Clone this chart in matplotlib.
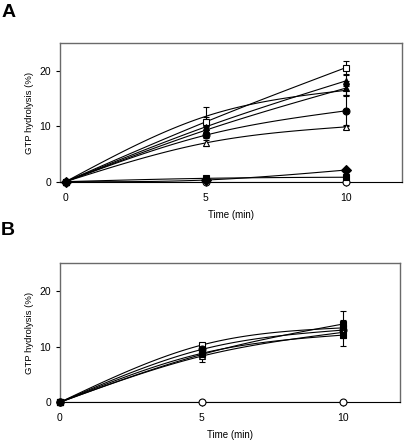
import numpy as np
import matplotlib.pyplot as plt

plt.rcParams['font.family'] = ['Liberation Sans', 'DejaVu Sans']

time = [0, 5, 10]

# panel A
a_open_sq = [0, 10.8, 20.6]
a_open_sq_err = [0, 0.8, 1.2]
a_fill_tri = [0, 9.9, 18.2]
a_fill_tri_err = [0, 0.5, 1.0]
a_plain = [0, 11.8, 16.5]
a_plain_err = [0, 1.7, 1.0]
a_fill_hex = [0, 9.3, 16.9]
a_fill_hex_err = [0, 0.5, 1.2]
a_fill_circ = [0, 8.4, 12.8]
a_fill_circ_err = [0, 0.5, 2.8]
a_open_tri = [0, 7.0, 9.9]
a_open_tri_err = [0, 0.5, 0.3]
a_fill_dia = [0, 0.3, 2.1]
a_fill_sq = [0, 0.6, 0.8]
a_open_circ = [0, 0.0, 0.0]

# panel B
b_open_sq = [0, 10.3, 13.4]
b_open_sq_err = [0, 0.4, 1.5]
b_fill_circ = [0, 9.5, 13.0]
b_fill_circ_err = [0, 0.5, 1.2]
b_fill_sq1 = [0, 8.6, 14.1]
b_fill_sq1_err = [0, 1.3, 2.3]
b_fill_sq2 = [0, 8.8, 12.1]
b_fill_sq2_err = [0, 0.5, 2.0]
b_open_tri = [0, 8.3, 12.6]
b_open_tri_err = [0, 0.4, 1.0]
b_open_circ = [0, 0.0, 0.0]


def natural_spline(x, y, xs):
    # natural cubic spline through the measured points (display only)
    x = np.asarray(x, float)
    y = np.asarray(y, float)
    n = len(x)
    h = np.diff(x)
    A = np.zeros((n, n))
    r = np.zeros(n)
    A[0, 0] = A[-1, -1] = 1
    for k in range(1, n - 1):
        A[k, k - 1] = h[k - 1]
        A[k, k] = 2 * (h[k - 1] + h[k])
        A[k, k + 1] = h[k]
        r[k] = 6 * ((y[k + 1] - y[k]) / h[k] - (y[k] - y[k - 1]) / h[k - 1])
    M = np.linalg.solve(A, r)
    out = np.empty_like(xs)
    for i, xv in enumerate(xs):
        k = min(np.searchsorted(x, xv, side='right') - 1, n - 2)
        a = x[k + 1] - xv
        b = xv - x[k]
        out[i] = (M[k] * a**3 / (6 * h[k]) + M[k + 1] * b**3 / (6 * h[k])
                  + (y[k] / h[k] - M[k] * h[k] / 6) * a
                  + (y[k + 1] / h[k] - M[k + 1] * h[k] / 6) * b)
    return out


def series(ax, y, marker, filled, err=None, z=4):
    xs = np.linspace(time[0], time[-1], 80)
    ax.plot(xs, natural_spline(time, y, xs), color='black', lw=0.8, zorder=2)
    if err is not None:
        ax.errorbar(time, y, yerr=err, fmt='none', ecolor='black',
                    elinewidth=0.8, capsize=2.5, capthick=0.8, zorder=3)
    if marker is not None:
        ax.plot(time, y, linestyle='none', marker=marker, ms=5,
                mfc='black' if filled else 'white', mec='black', mew=0.8,
                zorder=z, clip_on=False)


def style(ax, xmin):
    ax.set_xlim(xmin, 12)
    ax.set_ylim(0, 25)
    ax.set_xticks([0, 5, 10])
    ax.set_yticks([0, 10, 20])
    ax.tick_params(labelsize=7.5, length=3, width=0.8, direction='out')
    ax.tick_params(axis='x', pad=5)
    for s in ['top', 'right', 'left']:
        ax.spines[s].set_color('#6a6a6a')
        ax.spines[s].set_linewidth(1.0)
    ax.spines['bottom'].set_color('black')
    ax.spines['bottom'].set_linewidth(0.8)
    ax.set_xlabel('Time (min)', fontsize=7, labelpad=5)
    ax.set_ylabel('GTP hydrolysis (%)', fontsize=6.8, labelpad=4)


fig = plt.figure(figsize=(4.04, 4.42), dpi=100)
ax1 = fig.add_axes([0.1485, 0.589, 0.846, 0.313])
ax2 = fig.add_axes([0.1485, 0.090, 0.842, 0.314])

series(ax1, a_plain, None, True, a_plain_err)
series(ax1, a_open_sq, 's', False, a_open_sq_err)
series(ax1, a_fill_tri, '^', True, a_fill_tri_err)
series(ax1, a_fill_hex, '^', True, a_fill_hex_err)
series(ax1, a_fill_circ, 'o', True, a_fill_circ_err)
series(ax1, a_open_tri, '^', False, a_open_tri_err)
series(ax1, a_open_circ, 'o', False)
series(ax1, a_fill_dia, 'D', True)
series(ax1, a_fill_sq, 's', True, z=5)
style(ax1, -0.2)

series(ax2, b_open_circ, 'o', False)
series(ax2, b_open_sq, 's', False, b_open_sq_err)
series(ax2, b_fill_circ, 'o', True, b_fill_circ_err)
series(ax2, b_open_tri, '^', False, b_open_tri_err)
series(ax2, b_fill_sq2, 's', True, b_fill_sq2_err)
series(ax2, b_fill_sq1, 's', True, b_fill_sq1_err, z=5)
style(ax2, 0)

fig.text(0.003, 0.992, 'A', fontsize=14, weight='bold', va='top')
fig.text(0.003, 0.497, 'B', fontsize=14, weight='bold', va='top')

fig.savefig('out.png', dpi=100)
